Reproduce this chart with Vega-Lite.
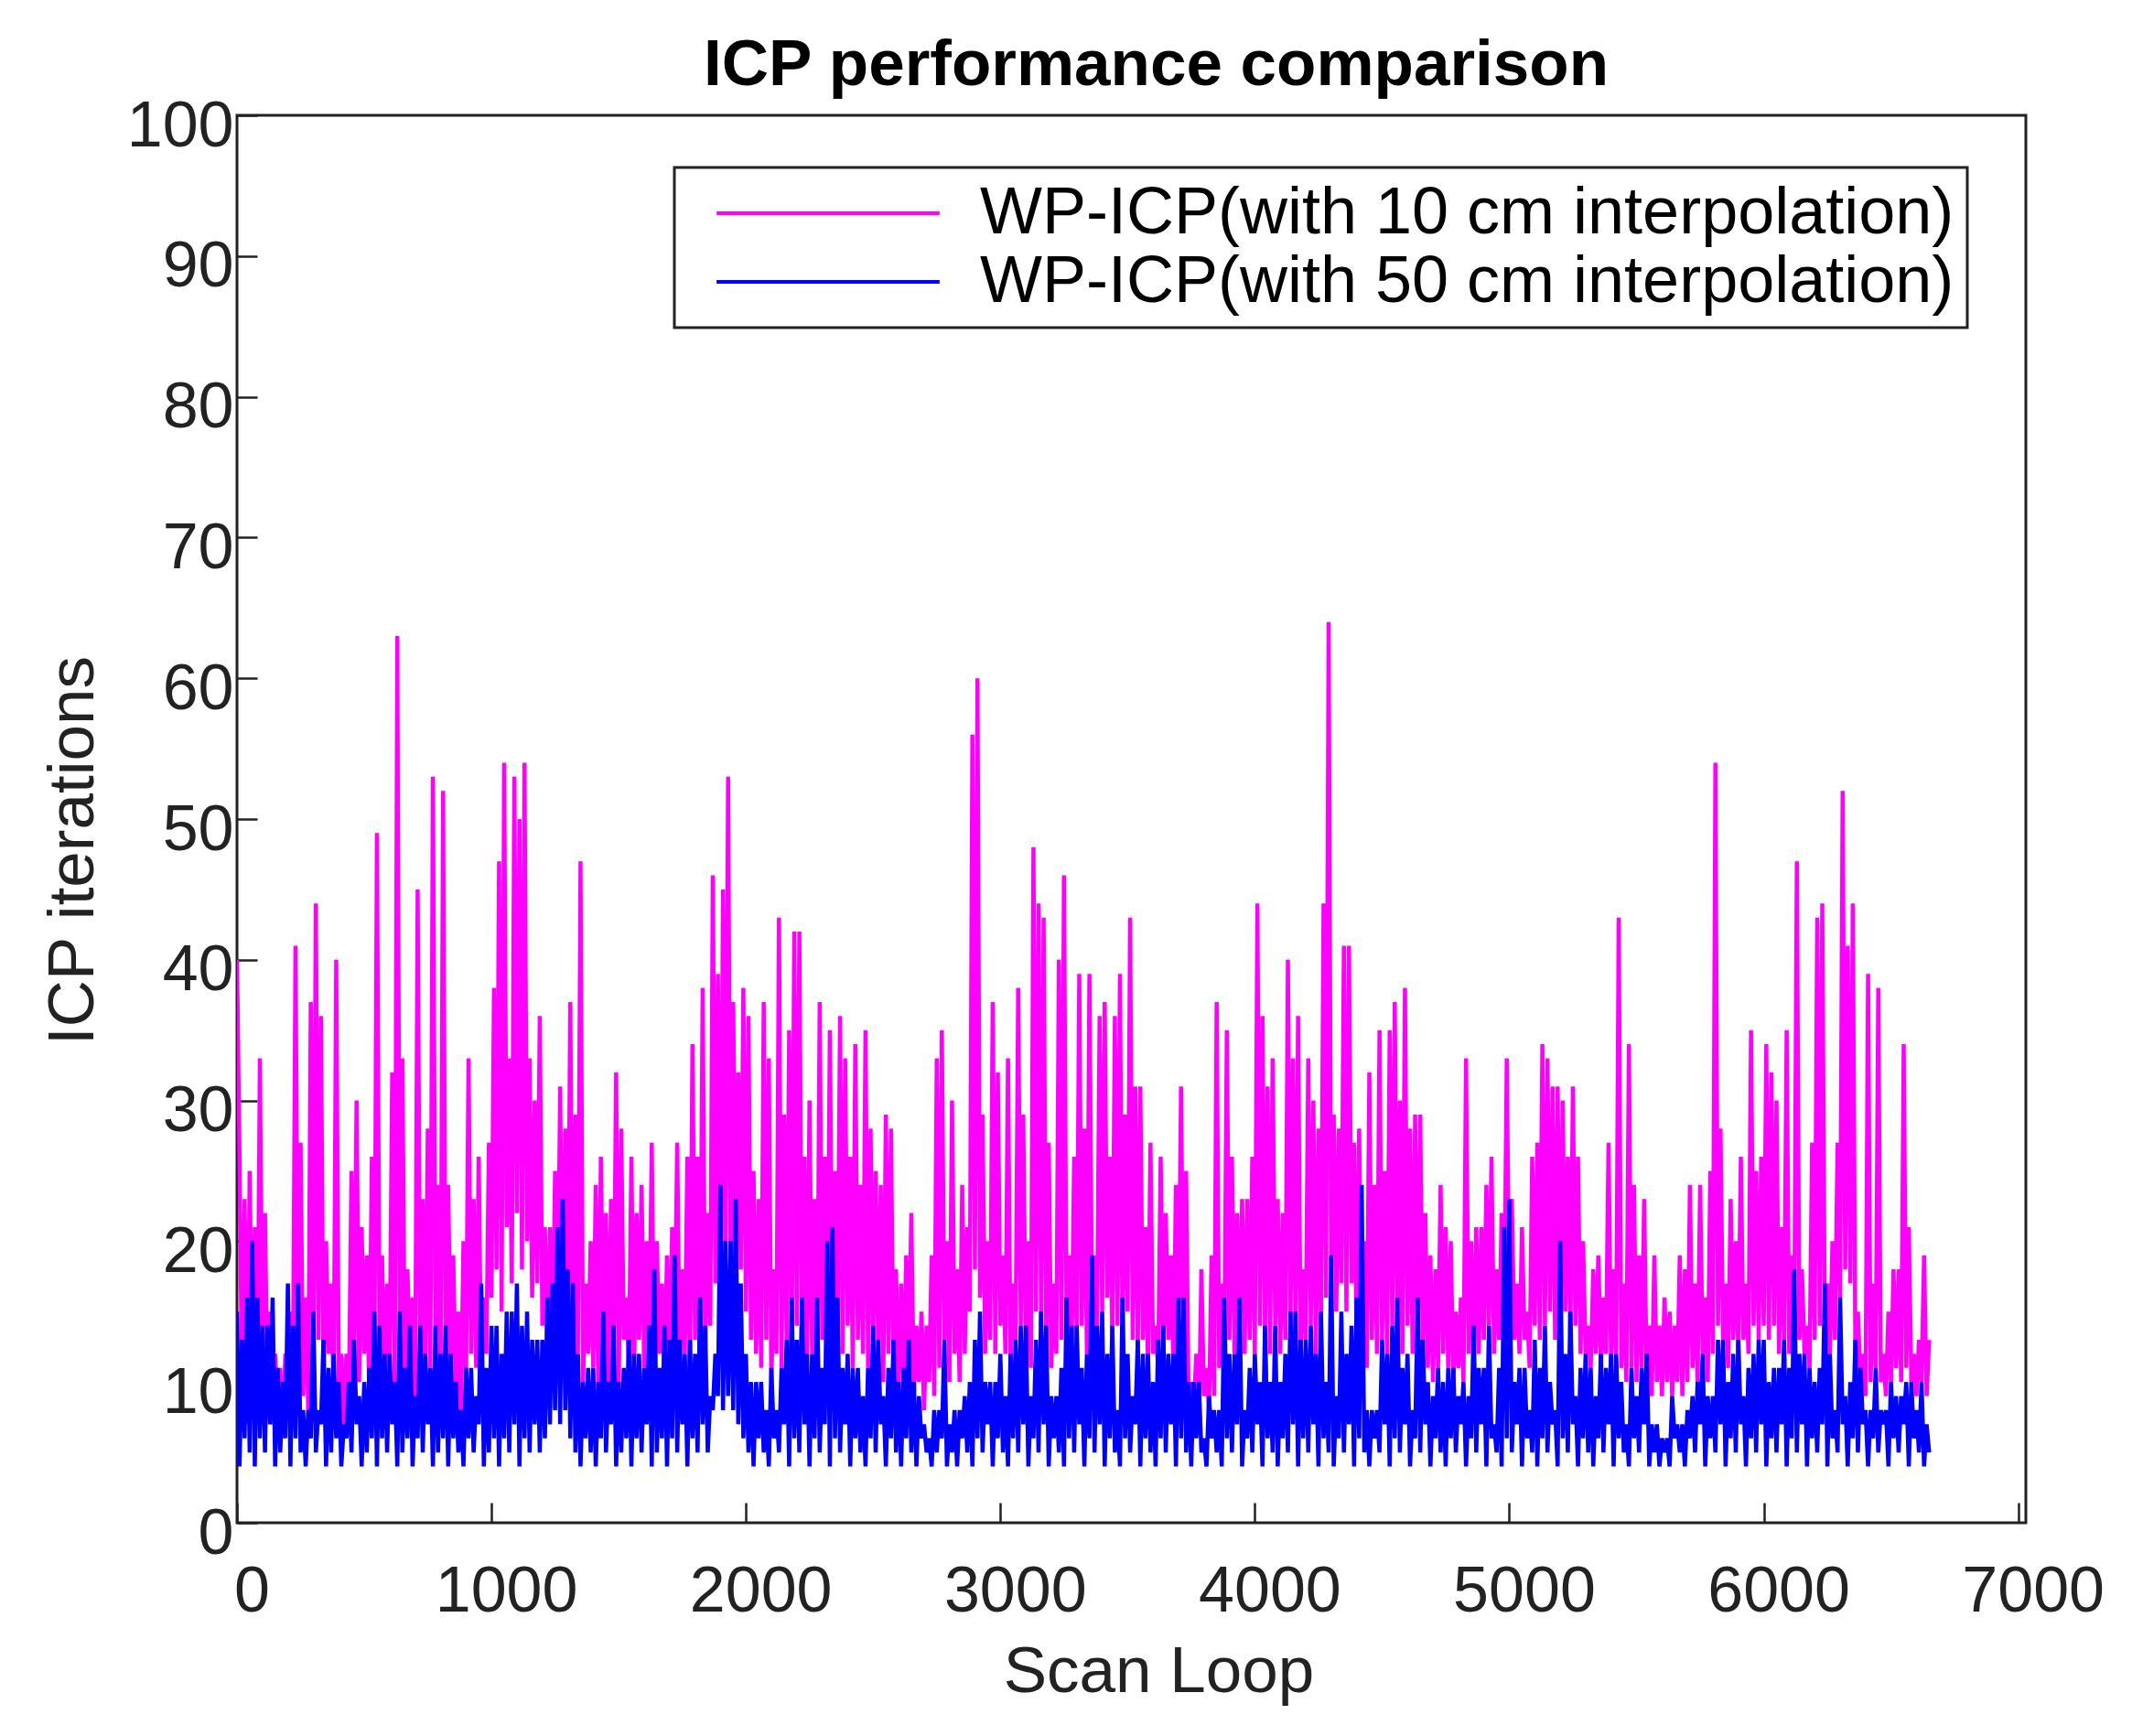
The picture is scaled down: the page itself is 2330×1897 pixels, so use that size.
{
  "$schema": "https://vega.github.io/schema/vega-lite/v6.json",
  "autosize": {"type": "none"},
  "padding": {"left": 259, "top": 126, "right": 116, "bottom": 233},
  "width": 1955,
  "height": 1538,
  "background": "white",
  "title": {
    "text": "ICP performance comparison",
    "font": "Liberation Sans",
    "fontSize": 71,
    "fontWeight": "bold",
    "color": "#000000",
    "anchor": "middle",
    "offset": -5,
    "dx": 27
  },
  "datasets": {
    "scans": [
{"x":0,"a":40,"b":15},{"x":10,"a":26,"b":4},{"x":20,"a":9,"b":13},{"x":30,"a":23,"b":6},{"x":40,"a":7,"b":16},{"x":50,"a":25,"b":5},{"x":60,"a":10,"b":20},{"x":70,"a":21,"b":4},{"x":80,"a":8,"b":16},{"x":90,"a":33,"b":6},
{"x":100,"a":11,"b":14},{"x":110,"a":22,"b":5},{"x":120,"a":9,"b":14},{"x":130,"a":15,"b":7},{"x":140,"a":7,"b":16},{"x":150,"a":12,"b":4},{"x":160,"a":8,"b":11},{"x":170,"a":11,"b":5},{"x":180,"a":6,"b":10},{"x":190,"a":12,"b":6},
{"x":200,"a":9,"b":17},{"x":210,"a":15,"b":4},{"x":220,"a":10,"b":14},{"x":230,"a":41,"b":6},{"x":240,"a":12,"b":17},{"x":250,"a":27,"b":5},{"x":260,"a":9,"b":8},{"x":270,"a":16,"b":4},{"x":280,"a":8,"b":8},{"x":290,"a":37,"b":6},
{"x":300,"a":11,"b":15},{"x":310,"a":44,"b":5},{"x":320,"a":13,"b":8},{"x":330,"a":36,"b":7},{"x":340,"a":10,"b":13},{"x":350,"a":20,"b":4},{"x":360,"a":12,"b":11},{"x":370,"a":17,"b":5},{"x":380,"a":9,"b":12},{"x":390,"a":40,"b":6},
{"x":400,"a":10,"b":10},{"x":410,"a":12,"b":4},{"x":420,"a":7,"b":7},{"x":430,"a":12,"b":6},{"x":440,"a":9,"b":10},{"x":450,"a":25,"b":5},{"x":460,"a":11,"b":13},{"x":470,"a":30,"b":7},{"x":480,"a":10,"b":9},{"x":490,"a":21,"b":4},
{"x":500,"a":12,"b":10},{"x":510,"a":19,"b":5},{"x":520,"a":9,"b":11},{"x":530,"a":26,"b":6},{"x":540,"a":11,"b":15},{"x":550,"a":49,"b":4},{"x":560,"a":13,"b":14},{"x":570,"a":19,"b":6},{"x":580,"a":10,"b":12},{"x":590,"a":17,"b":5},
{"x":600,"a":11,"b":12},{"x":610,"a":32,"b":7},{"x":620,"a":9,"b":10},{"x":630,"a":63,"b":4},{"x":640,"a":12,"b":15},{"x":650,"a":33,"b":5},{"x":660,"a":10,"b":11},{"x":670,"a":18,"b":6},{"x":680,"a":11,"b":14},{"x":690,"a":16,"b":4},
{"x":700,"a":8,"b":9},{"x":710,"a":45,"b":6},{"x":720,"a":12,"b":14},{"x":730,"a":23,"b":5},{"x":740,"a":10,"b":12},{"x":750,"a":28,"b":7},{"x":760,"a":11,"b":11},{"x":770,"a":53,"b":4},{"x":780,"a":13,"b":14},{"x":790,"a":24,"b":5},
{"x":800,"a":10,"b":12},{"x":810,"a":52,"b":6},{"x":820,"a":12,"b":14},{"x":830,"a":24,"b":4},{"x":840,"a":11,"b":12},{"x":850,"a":19,"b":6},{"x":860,"a":9,"b":10},{"x":870,"a":15,"b":5},{"x":880,"a":8,"b":8},{"x":890,"a":20,"b":4},
{"x":900,"a":10,"b":11},{"x":910,"a":33,"b":6},{"x":920,"a":12,"b":11},{"x":930,"a":23,"b":5},{"x":940,"a":11,"b":9},{"x":950,"a":26,"b":7},{"x":960,"a":10,"b":17},{"x":970,"a":16,"b":4},{"x":980,"a":12,"b":11},{"x":990,"a":27,"b":5},
{"x":1000,"a":16,"b":14},{"x":1010,"a":38,"b":6},{"x":1020,"a":18,"b":14},{"x":1030,"a":47,"b":4},{"x":1040,"a":15,"b":12},{"x":1050,"a":54,"b":6},{"x":1060,"a":21,"b":15},{"x":1070,"a":33,"b":5},{"x":1080,"a":17,"b":15},{"x":1090,"a":53,"b":7},
{"x":1100,"a":22,"b":17},{"x":1110,"a":50,"b":4},{"x":1120,"a":18,"b":14},{"x":1130,"a":54,"b":6},{"x":1140,"a":20,"b":15},{"x":1150,"a":33,"b":5},{"x":1160,"a":16,"b":13},{"x":1170,"a":30,"b":7},{"x":1180,"a":17,"b":13},{"x":1190,"a":36,"b":5},
{"x":1200,"a":14,"b":13},{"x":1210,"a":21,"b":6},{"x":1220,"a":12,"b":16},{"x":1230,"a":21,"b":7},{"x":1240,"a":11,"b":17},{"x":1250,"a":25,"b":8},{"x":1260,"a":13,"b":21},{"x":1270,"a":31,"b":7},{"x":1280,"a":12,"b":23},{"x":1290,"a":28,"b":8},
{"x":1300,"a":14,"b":18},{"x":1310,"a":37,"b":6},{"x":1320,"a":11,"b":17},{"x":1330,"a":29,"b":5},{"x":1340,"a":12,"b":12},{"x":1350,"a":47,"b":4},{"x":1360,"a":10,"b":10},{"x":1370,"a":17,"b":6},{"x":1380,"a":12,"b":11},{"x":1390,"a":20,"b":5},
{"x":1400,"a":11,"b":11},{"x":1410,"a":24,"b":4},{"x":1420,"a":9,"b":10},{"x":1430,"a":26,"b":6},{"x":1440,"a":13,"b":15},{"x":1450,"a":22,"b":5},{"x":1460,"a":10,"b":10},{"x":1470,"a":23,"b":7},{"x":1480,"a":12,"b":14},{"x":1490,"a":32,"b":4},
{"x":1500,"a":9,"b":10},{"x":1510,"a":28,"b":5},{"x":1520,"a":13,"b":11},{"x":1530,"a":16,"b":6},{"x":1540,"a":11,"b":13},{"x":1550,"a":26,"b":4},{"x":1560,"a":10,"b":12},{"x":1570,"a":22,"b":6},{"x":1580,"a":13,"b":12},{"x":1590,"a":24,"b":5},
{"x":1600,"a":11,"b":11},{"x":1610,"a":20,"b":7},{"x":1620,"a":12,"b":14},{"x":1630,"a":27,"b":4},{"x":1640,"a":10,"b":18},{"x":1650,"a":20,"b":5},{"x":1660,"a":12,"b":11},{"x":1670,"a":17,"b":6},{"x":1680,"a":11,"b":14},{"x":1690,"a":19,"b":4},
{"x":1700,"a":10,"b":13},{"x":1710,"a":21,"b":6},{"x":1720,"a":13,"b":19},{"x":1730,"a":27,"b":5},{"x":1740,"a":11,"b":13},{"x":1750,"a":18,"b":7},{"x":1760,"a":12,"b":12},{"x":1770,"a":26,"b":4},{"x":1780,"a":10,"b":13},{"x":1790,"a":34,"b":6},
{"x":1800,"a":13,"b":12},{"x":1810,"a":26,"b":5},{"x":1820,"a":11,"b":16},{"x":1830,"a":38,"b":7},{"x":1840,"a":12,"b":14},{"x":1850,"a":22,"b":5},{"x":1860,"a":14,"b":9},{"x":1870,"a":46,"b":8},{"x":1880,"a":17,"b":12},{"x":1890,"a":39,"b":9},
{"x":1900,"a":15,"b":24},{"x":1910,"a":45,"b":8},{"x":1920,"a":19,"b":20},{"x":1930,"a":53,"b":9},{"x":1940,"a":17,"b":20},{"x":1950,"a":37,"b":8},{"x":1960,"a":20,"b":23},{"x":1970,"a":32,"b":7},{"x":1980,"a":18,"b":17},{"x":1990,"a":38,"b":6},
{"x":2000,"a":15,"b":12},{"x":2010,"a":36,"b":5},{"x":2020,"a":13,"b":10},{"x":2030,"a":25,"b":4},{"x":2040,"a":12,"b":10},{"x":2050,"a":23,"b":6},{"x":2060,"a":11,"b":10},{"x":2070,"a":37,"b":5},{"x":2080,"a":13,"b":8},{"x":2090,"a":33,"b":4},
{"x":2100,"a":10,"b":11},{"x":2110,"a":18,"b":6},{"x":2120,"a":12,"b":8},{"x":2130,"a":43,"b":5},{"x":2140,"a":11,"b":11},{"x":2150,"a":29,"b":7},{"x":2160,"a":13,"b":13},{"x":2170,"a":35,"b":4},{"x":2180,"a":12,"b":16},{"x":2190,"a":42,"b":6},
{"x":2200,"a":14,"b":13},{"x":2210,"a":42,"b":5},{"x":2220,"a":13,"b":16},{"x":2230,"a":26,"b":7},{"x":2240,"a":11,"b":12},{"x":2250,"a":30,"b":4},{"x":2260,"a":12,"b":12},{"x":2270,"a":23,"b":6},{"x":2280,"a":10,"b":16},{"x":2290,"a":37,"b":5},
{"x":2300,"a":13,"b":11},{"x":2310,"a":26,"b":7},{"x":2320,"a":12,"b":20},{"x":2330,"a":35,"b":4},{"x":2340,"a":14,"b":21},{"x":2350,"a":25,"b":6},{"x":2360,"a":13,"b":16},{"x":2370,"a":36,"b":5},{"x":2380,"a":12,"b":11},{"x":2390,"a":33,"b":7},
{"x":2400,"a":14,"b":12},{"x":2410,"a":26,"b":4},{"x":2420,"a":11,"b":11},{"x":2430,"a":34,"b":6},{"x":2440,"a":13,"b":11},{"x":2450,"a":24,"b":5},{"x":2460,"a":12,"b":9},{"x":2470,"a":35,"b":4},{"x":2480,"a":11,"b":11},{"x":2490,"a":28,"b":6},
{"x":2500,"a":13,"b":14},{"x":2510,"a":25,"b":5},{"x":2520,"a":12,"b":13},{"x":2530,"a":24,"b":7},{"x":2540,"a":10,"b":9},{"x":2550,"a":29,"b":4},{"x":2560,"a":12,"b":11},{"x":2570,"a":28,"b":6},{"x":2580,"a":11,"b":13},{"x":2590,"a":18,"b":5},
{"x":2600,"a":9,"b":10},{"x":2610,"a":17,"b":4},{"x":2620,"a":10,"b":11},{"x":2630,"a":19,"b":6},{"x":2640,"a":11,"b":13},{"x":2650,"a":22,"b":5},{"x":2660,"a":9,"b":10},{"x":2670,"a":14,"b":4},{"x":2680,"a":10,"b":9},{"x":2690,"a":15,"b":6},
{"x":2700,"a":8,"b":7},{"x":2710,"a":14,"b":5},{"x":2720,"a":10,"b":6},{"x":2730,"a":19,"b":4},{"x":2740,"a":9,"b":8},{"x":2750,"a":33,"b":5},{"x":2760,"a":11,"b":8},{"x":2770,"a":35,"b":6},{"x":2780,"a":13,"b":13},{"x":2790,"a":20,"b":4},
{"x":2800,"a":10,"b":7},{"x":2810,"a":30,"b":5},{"x":2820,"a":12,"b":8},{"x":2830,"a":18,"b":4},{"x":2840,"a":10,"b":8},{"x":2850,"a":24,"b":6},{"x":2860,"a":12,"b":9},{"x":2870,"a":21,"b":5},{"x":2880,"a":15,"b":10},{"x":2890,"a":56,"b":4},
{"x":2900,"a":18,"b":13},{"x":2910,"a":60,"b":6},{"x":2920,"a":16,"b":15},{"x":2930,"a":29,"b":5},{"x":2940,"a":12,"b":10},{"x":2950,"a":20,"b":7},{"x":2960,"a":13,"b":10},{"x":2970,"a":37,"b":4},{"x":2980,"a":12,"b":10},{"x":2990,"a":32,"b":6},
{"x":3000,"a":14,"b":12},{"x":3010,"a":19,"b":5},{"x":3020,"a":12,"b":9},{"x":3030,"a":33,"b":4},{"x":3040,"a":11,"b":12},{"x":3050,"a":17,"b":6},{"x":3060,"a":13,"b":13},{"x":3070,"a":38,"b":5},{"x":3080,"a":14,"b":14},{"x":3090,"a":29,"b":7},
{"x":3100,"a":12,"b":14},{"x":3110,"a":20,"b":4},{"x":3120,"a":11,"b":9},{"x":3130,"a":48,"b":6},{"x":3140,"a":15,"b":13},{"x":3150,"a":44,"b":5},{"x":3160,"a":14,"b":15},{"x":3170,"a":43,"b":7},{"x":3180,"a":13,"b":14},{"x":3190,"a":27,"b":4},
{"x":3200,"a":11,"b":9},{"x":3210,"a":17,"b":6},{"x":3220,"a":12,"b":9},{"x":3230,"a":40,"b":5},{"x":3240,"a":13,"b":11},{"x":3250,"a":46,"b":4},{"x":3260,"a":14,"b":16},{"x":3270,"a":19,"b":6},{"x":3280,"a":12,"b":14},{"x":3290,"a":26,"b":5},
{"x":3300,"a":13,"b":14},{"x":3310,"a":39,"b":7},{"x":3320,"a":14,"b":11},{"x":3330,"a":28,"b":4},{"x":3340,"a":12,"b":12},{"x":3350,"a":39,"b":6},{"x":3360,"a":15,"b":19},{"x":3370,"a":19,"b":5},{"x":3380,"a":14,"b":14},{"x":3390,"a":36,"b":7},
{"x":3400,"a":15,"b":15},{"x":3410,"a":37,"b":4},{"x":3420,"a":16,"b":12},{"x":3430,"a":26,"b":6},{"x":3440,"a":13,"b":14},{"x":3450,"a":36,"b":5},{"x":3460,"a":14,"b":8},{"x":3470,"a":39,"b":4},{"x":3480,"a":13,"b":16},{"x":3490,"a":29,"b":6},
{"x":3500,"a":15,"b":12},{"x":3510,"a":43,"b":5},{"x":3520,"a":13,"b":9},{"x":3530,"a":31,"b":7},{"x":3540,"a":12,"b":13},{"x":3550,"a":31,"b":4},{"x":3560,"a":13,"b":12},{"x":3570,"a":21,"b":6},{"x":3580,"a":11,"b":12},{"x":3590,"a":27,"b":5},
{"x":3600,"a":12,"b":10},{"x":3610,"a":14,"b":4},{"x":3620,"a":11,"b":13},{"x":3630,"a":26,"b":6},{"x":3640,"a":12,"b":14},{"x":3650,"a":22,"b":5},{"x":3660,"a":13,"b":12},{"x":3670,"a":19,"b":7},{"x":3680,"a":11,"b":12},{"x":3690,"a":24,"b":4},
{"x":3700,"a":13,"b":16},{"x":3710,"a":31,"b":6},{"x":3720,"a":12,"b":16},{"x":3730,"a":25,"b":5},{"x":3740,"a":8,"b":10},{"x":3750,"a":10,"b":4},{"x":3760,"a":8,"b":10},{"x":3770,"a":12,"b":6},{"x":3780,"a":7,"b":10},{"x":3790,"a":18,"b":5},
{"x":3800,"a":9,"b":6},{"x":3810,"a":11,"b":4},{"x":3820,"a":8,"b":9},{"x":3830,"a":19,"b":6},{"x":3840,"a":9,"b":8},{"x":3850,"a":37,"b":5},{"x":3860,"a":11,"b":8},{"x":3870,"a":17,"b":4},{"x":3880,"a":12,"b":16},{"x":3890,"a":35,"b":6},
{"x":3900,"a":13,"b":12},{"x":3910,"a":26,"b":5},{"x":3920,"a":12,"b":12},{"x":3930,"a":22,"b":7},{"x":3940,"a":14,"b":16},{"x":3950,"a":23,"b":4},{"x":3960,"a":12,"b":8},{"x":3970,"a":23,"b":6},{"x":3980,"a":13,"b":11},{"x":3990,"a":26,"b":5},
{"x":4000,"a":12,"b":12},{"x":4010,"a":44,"b":7},{"x":4020,"a":14,"b":10},{"x":4030,"a":36,"b":4},{"x":4040,"a":13,"b":14},{"x":4050,"a":31,"b":6},{"x":4060,"a":12,"b":10},{"x":4070,"a":33,"b":5},{"x":4080,"a":14,"b":14},{"x":4090,"a":23,"b":4},
{"x":4100,"a":12,"b":10},{"x":4110,"a":22,"b":6},{"x":4120,"a":13,"b":12},{"x":4130,"a":40,"b":5},{"x":4140,"a":14,"b":15},{"x":4150,"a":33,"b":7},{"x":4160,"a":13,"b":15},{"x":4170,"a":36,"b":4},{"x":4180,"a":12,"b":13},{"x":4190,"a":18,"b":6},
{"x":4200,"a":13,"b":13},{"x":4210,"a":33,"b":5},{"x":4220,"a":14,"b":14},{"x":4230,"a":30,"b":7},{"x":4240,"a":12,"b":12},{"x":4250,"a":28,"b":4},{"x":4260,"a":14,"b":15},{"x":4270,"a":44,"b":6},{"x":4280,"a":16,"b":10},{"x":4290,"a":64,"b":5},
{"x":4300,"a":18,"b":19},{"x":4310,"a":29,"b":4},{"x":4320,"a":15,"b":9},{"x":4330,"a":28,"b":6},{"x":4340,"a":17,"b":15},{"x":4350,"a":41,"b":5},{"x":4360,"a":15,"b":12},{"x":4370,"a":41,"b":7},{"x":4380,"a":17,"b":14},{"x":4390,"a":27,"b":4},
{"x":4400,"a":13,"b":16},{"x":4410,"a":28,"b":6},{"x":4420,"a":12,"b":24},{"x":4430,"a":20,"b":5},{"x":4440,"a":11,"b":8},{"x":4450,"a":32,"b":4},{"x":4460,"a":13,"b":8},{"x":4470,"a":24,"b":6},{"x":4480,"a":12,"b":8},{"x":4490,"a":35,"b":5},
{"x":4500,"a":13,"b":13},{"x":4510,"a":25,"b":7},{"x":4520,"a":12,"b":12},{"x":4530,"a":35,"b":4},{"x":4540,"a":14,"b":14},{"x":4550,"a":37,"b":6},{"x":4560,"a":13,"b":16},{"x":4570,"a":30,"b":5},{"x":4580,"a":12,"b":11},{"x":4590,"a":38,"b":7},
{"x":4600,"a":14,"b":12},{"x":4610,"a":28,"b":4},{"x":4620,"a":12,"b":8},{"x":4630,"a":29,"b":6},{"x":4640,"a":13,"b":16},{"x":4650,"a":29,"b":5},{"x":4660,"a":12,"b":13},{"x":4670,"a":22,"b":7},{"x":4680,"a":11,"b":10},{"x":4690,"a":19,"b":4},
{"x":4700,"a":10,"b":9},{"x":4710,"a":18,"b":6},{"x":4720,"a":11,"b":11},{"x":4730,"a":24,"b":5},{"x":4740,"a":12,"b":10},{"x":4750,"a":21,"b":4},{"x":4760,"a":11,"b":11},{"x":4770,"a":20,"b":6},{"x":4780,"a":10,"b":11},{"x":4790,"a":15,"b":5},
{"x":4800,"a":11,"b":9},{"x":4810,"a":16,"b":7},{"x":4820,"a":10,"b":10},{"x":4830,"a":33,"b":4},{"x":4840,"a":12,"b":9},{"x":4850,"a":20,"b":6},{"x":4860,"a":11,"b":14},{"x":4870,"a":21,"b":5},{"x":4880,"a":12,"b":11},{"x":4890,"a":21,"b":7},
{"x":4900,"a":13,"b":11},{"x":4910,"a":24,"b":4},{"x":4920,"a":14,"b":14},{"x":4930,"a":26,"b":6},{"x":4940,"a":12,"b":7},{"x":4950,"a":18,"b":5},{"x":4960,"a":13,"b":11},{"x":4970,"a":22,"b":4},{"x":4980,"a":14,"b":21},{"x":4990,"a":33,"b":6},
{"x":5000,"a":15,"b":23},{"x":5010,"a":23,"b":5},{"x":5020,"a":13,"b":10},{"x":5030,"a":17,"b":7},{"x":5040,"a":12,"b":11},{"x":5050,"a":21,"b":4},{"x":5060,"a":13,"b":11},{"x":5070,"a":15,"b":6},{"x":5080,"a":11,"b":8},{"x":5090,"a":26,"b":5},
{"x":5100,"a":14,"b":13},{"x":5110,"a":27,"b":4},{"x":5120,"a":13,"b":11},{"x":5130,"a":34,"b":6},{"x":5140,"a":14,"b":14},{"x":5150,"a":33,"b":5},{"x":5160,"a":15,"b":10},{"x":5170,"a":31,"b":7},{"x":5180,"a":13,"b":8},{"x":5190,"a":31,"b":4},
{"x":5200,"a":14,"b":20},{"x":5210,"a":30,"b":6},{"x":5220,"a":15,"b":12},{"x":5230,"a":26,"b":5},{"x":5240,"a":13,"b":15},{"x":5250,"a":31,"b":7},{"x":5260,"a":14,"b":9},{"x":5270,"a":26,"b":4},{"x":5280,"a":12,"b":11},{"x":5290,"a":20,"b":6},
{"x":5300,"a":12,"b":12},{"x":5310,"a":14,"b":5},{"x":5320,"a":11,"b":11},{"x":5330,"a":18,"b":4},{"x":5340,"a":12,"b":9},{"x":5350,"a":19,"b":6},{"x":5360,"a":11,"b":12},{"x":5370,"a":16,"b":5},{"x":5380,"a":12,"b":11},{"x":5390,"a":27,"b":7},
{"x":5400,"a":11,"b":12},{"x":5410,"a":18,"b":4},{"x":5420,"a":12,"b":12},{"x":5430,"a":43,"b":6},{"x":5440,"a":11,"b":10},{"x":5450,"a":17,"b":5},{"x":5460,"a":10,"b":7},{"x":5470,"a":34,"b":4},{"x":5480,"a":11,"b":11},{"x":5490,"a":24,"b":6},
{"x":5500,"a":10,"b":9},{"x":5510,"a":19,"b":5},{"x":5520,"a":11,"b":11},{"x":5530,"a":23,"b":7},{"x":5540,"a":10,"b":12},{"x":5550,"a":14,"b":4},{"x":5560,"a":9,"b":7},{"x":5570,"a":19,"b":5},{"x":5580,"a":10,"b":7},{"x":5590,"a":14,"b":4},
{"x":5600,"a":9,"b":6},{"x":5610,"a":16,"b":5},{"x":5620,"a":10,"b":6},{"x":5630,"a":15,"b":4},{"x":5640,"a":9,"b":9},{"x":5650,"a":14,"b":6},{"x":5660,"a":10,"b":7},{"x":5670,"a":19,"b":5},{"x":5680,"a":9,"b":7},{"x":5690,"a":18,"b":4},
{"x":5700,"a":10,"b":8},{"x":5710,"a":24,"b":6},{"x":5720,"a":11,"b":9},{"x":5730,"a":17,"b":5},{"x":5740,"a":10,"b":10},{"x":5750,"a":24,"b":7},{"x":5760,"a":12,"b":12},{"x":5770,"a":16,"b":4},{"x":5780,"a":10,"b":9},{"x":5790,"a":25,"b":6},
{"x":5800,"a":12,"b":9},{"x":5810,"a":54,"b":5},{"x":5820,"a":14,"b":13},{"x":5830,"a":28,"b":7},{"x":5840,"a":13,"b":13},{"x":5850,"a":17,"b":4},{"x":5860,"a":11,"b":10},{"x":5870,"a":23,"b":6},{"x":5880,"a":13,"b":12},{"x":5890,"a":20,"b":5},
{"x":5900,"a":12,"b":13},{"x":5910,"a":26,"b":7},{"x":5920,"a":13,"b":9},{"x":5930,"a":17,"b":4},{"x":5940,"a":12,"b":11},{"x":5950,"a":35,"b":6},{"x":5960,"a":14,"b":12},{"x":5970,"a":25,"b":5},{"x":5980,"a":13,"b":13},{"x":5990,"a":26,"b":7},
{"x":6000,"a":14,"b":13},{"x":6010,"a":34,"b":4},{"x":6020,"a":13,"b":10},{"x":6030,"a":32,"b":6},{"x":6040,"a":14,"b":11},{"x":6050,"a":30,"b":5},{"x":6060,"a":12,"b":11},{"x":6070,"a":21,"b":7},{"x":6080,"a":13,"b":13},{"x":6090,"a":35,"b":4},
{"x":6100,"a":12,"b":11},{"x":6110,"a":19,"b":6},{"x":6120,"a":14,"b":18},{"x":6130,"a":47,"b":5},{"x":6140,"a":13,"b":12},{"x":6150,"a":18,"b":7},{"x":6160,"a":12,"b":12},{"x":6170,"a":14,"b":4},{"x":6180,"a":11,"b":11},{"x":6190,"a":27,"b":6},
{"x":6200,"a":13,"b":10},{"x":6210,"a":43,"b":5},{"x":6220,"a":14,"b":11},{"x":6230,"a":44,"b":7},{"x":6240,"a":13,"b":17},{"x":6250,"a":17,"b":4},{"x":6260,"a":12,"b":12},{"x":6270,"a":20,"b":6},{"x":6280,"a":13,"b":8},{"x":6290,"a":27,"b":5},
{"x":6300,"a":16,"b":16},{"x":6310,"a":52,"b":7},{"x":6320,"a":18,"b":9},{"x":6330,"a":41,"b":4},{"x":6340,"a":17,"b":10},{"x":6350,"a":44,"b":6},{"x":6360,"a":12,"b":13},{"x":6370,"a":15,"b":5},{"x":6380,"a":10,"b":11},{"x":6390,"a":12,"b":7},
{"x":6400,"a":9,"b":8},{"x":6410,"a":39,"b":4},{"x":6420,"a":10,"b":8},{"x":6430,"a":17,"b":6},{"x":6440,"a":11,"b":11},{"x":6450,"a":38,"b":5},{"x":6460,"a":10,"b":8},{"x":6470,"a":12,"b":7},{"x":6480,"a":9,"b":8},{"x":6490,"a":15,"b":4},
{"x":6500,"a":10,"b":10},{"x":6510,"a":18,"b":6},{"x":6520,"a":11,"b":9},{"x":6530,"a":18,"b":5},{"x":6540,"a":10,"b":9},{"x":6550,"a":34,"b":7},{"x":6560,"a":11,"b":10},{"x":6570,"a":21,"b":4},{"x":6580,"a":10,"b":10},{"x":6590,"a":12,"b":6},
{"x":6600,"a":9,"b":8},{"x":6610,"a":13,"b":5},{"x":6620,"a":10,"b":10},{"x":6630,"a":19,"b":4},{"x":6640,"a":9,"b":7},{"x":6650,"a":13,"b":5}
    ]
  },
  "data": {"name": "scans"},
  "encoding": {
    "x": {
      "field": "x",
      "type": "quantitative",
      "title": "Scan Loop",
      "scale": {"domain": [0, 7030], "nice": false, "zero": false},
      "axis": {
        "values": [0, 1000, 2000, 3000, 4000, 5000, 6000, 7000],
        "format": "d",
        "labelFlush": false,
        "grid": false,
        "domain": false,
        "tickSize": -22,
        "labelPadding": 63,
        "labelOffset": 16,
        "titleX": 1007,
        "titleY": 184,
        "titleBaseline": "alphabetic",
        "titleAlign": "center"
      }
    },
    "y": {
      "type": "quantitative",
      "scale": {"domain": [0, 100], "nice": false},
      "axis": {
        "values": [0, 10, 20, 30, 40, 50, 60, 70, 80, 90, 100],
        "grid": false,
        "domain": false,
        "tickSize": -22,
        "labelPadding": 26,
        "labelOffset": 12,
        "title": "ICP iterations",
        "titleX": -158,
        "titleY": 803,
        "titleAngle": -90,
        "titleBaseline": "alphabetic",
        "titleAlign": "center"
      }
    }
  },
  "layer": [
    {
      "mark": {"type": "line", "strokeWidth": 4.5, "strokeJoin": "bevel", "clip": true},
      "encoding": {
        "y": {"field": "a", "type": "quantitative"},
        "color": {
          "datum": "WP-ICP(with 10 cm interpolation)",
          "scale": {
            "domain": ["WP-ICP(with 10 cm interpolation)", "WP-ICP(with 50 cm interpolation)"],
            "range": ["#FF00FF", "#0000FF"]
          },
          "legend": {
            "title": null,
            "orient": "none",
            "legendX": 478,
            "legendY": 57,
            "symbolType": "M-6,0H6",
            "symbolSize": 1650,
            "symbolStrokeWidth": 4,
            "symbolOffset": 118,
            "labelOffset": 130,
            "labelFont": "Liberation Sans",
            "labelFontSize": 72,
            "labelColor": "#000000",
            "labelLimit": 0,
            "rowPadding": 3,
            "padding": 14,
            "strokeColor": "#222222",
            "fillColor": "white"
          }
        }
      }
    },
    {
      "mark": {"type": "line", "strokeWidth": 4.5, "strokeJoin": "bevel", "clip": true},
      "encoding": {
        "y": {"field": "b", "type": "quantitative"},
        "color": {"datum": "WP-ICP(with 50 cm interpolation)"}
      }
    }
  ],
  "config": {
    "view": {"stroke": "#222222", "strokeWidth": 3},
    "axis": {
      "labelFont": "Liberation Sans",
      "labelFontSize": 70,
      "labelColor": "#222222",
      "titleFont": "Liberation Sans",
      "titleFontSize": 71,
      "titleFontWeight": "normal",
      "titleColor": "#222222",
      "tickColor": "#222222",
      "tickWidth": 2.5
    },
    "legend": {"strokeWidth": 3}
  }
}
